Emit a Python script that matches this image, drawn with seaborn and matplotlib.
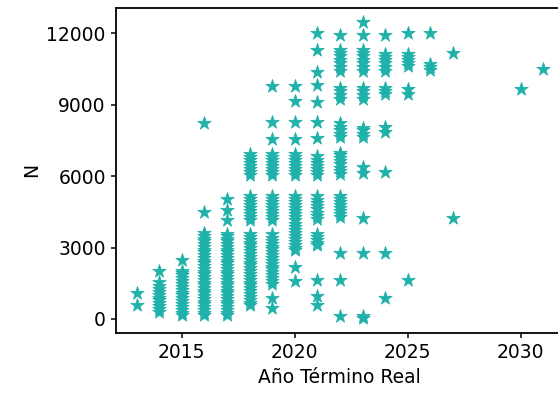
import matplotlib
matplotlib.use("Agg")
import matplotlib.pyplot as plt
import seaborn as sns
import pandas as pd

# Values, per completion year
y2013 = [600, 1090]
y2014 = [300, 420, 540, 660, 780, 900, 1020, 1140, 1260, 1380, 1550, 2000]
y2015 = [150, 270, 390, 510, 630, 750, 870, 990, 1110, 1230, 1350, 1470,
         1590, 1710, 1830, 1950, 2030, 2490]
y2016 = [150, 265, 380, 495, 610, 725, 840, 955, 1070, 1185, 1300, 1415,
         1530, 1645, 1760, 1875, 1990, 2105, 2220, 2335, 2450, 2565, 2680,
         2795, 2910, 3025, 3140, 3255, 3370, 3485, 3600, 4480, 8220]
y2017 = [150, 265, 380, 495, 610, 725, 840, 955, 1070, 1185, 1300, 1415,
         1530, 1645, 1760, 1875, 1990, 2105, 2220, 2335, 2450, 2565, 2680,
         2795, 2910, 3025, 3140, 3255, 3370, 3485, 3580, 4170, 4590, 5030]
y2018 = [570, 690, 810, 930, 1050, 1170, 1290, 1410, 1530, 1650, 1770, 1890,
         2010, 2130, 2250, 2370, 2490, 2610, 2730, 2850, 2970, 3090, 3210,
         3330, 3450, 3580, 4140, 4270, 4400, 4530, 4660, 4790, 4920, 5050,
         5170, 6030, 6160, 6290, 6420, 6550, 6680, 6810, 6930]
y2019 = [460, 880, 1480, 1600, 1720, 1840, 1960, 2080, 2200, 2320, 2440,
         2560, 2680, 2800, 2920, 3040, 3160, 3280, 3400, 3580, 4140, 4270,
         4400, 4530, 4660, 4790, 4920, 5050, 5170, 6030, 6160, 6290, 6420,
         6550, 6680, 6810, 6930, 7550, 8290, 9800]
y2020 = [1580, 2200, 2880, 3000, 3120, 3240, 3360, 3480, 3600, 3720, 3850,
         3980, 4140, 4270, 4400, 4530, 4660, 4790, 4920, 5050, 5170, 6030,
         6160, 6290, 6420, 6550, 6680, 6810, 6930, 7550, 8290, 9150, 9800]
y2021 = [600, 950, 1650, 3090, 3210, 3330, 3450, 3580, 4210, 4340, 4470,
         4600, 4730, 4860, 4990, 5170, 6030, 6160, 6290, 6420, 6550, 6680,
         6850, 7600, 8270, 9105, 9830, 10390, 11300, 12000]
y2022 = [110, 1650, 2770, 4280, 4410, 4540, 4670, 4800, 4930, 5050, 5170,
         6100, 6230, 6360, 6490, 6620, 6750, 6880, 6990, 7640, 7780, 7920,
         8060, 8250, 9245, 9400, 9560, 9720, 10430, 10580, 10730, 10880,
         11030, 11160, 11290, 11930]
y2023 = [30, 110, 2770, 4240, 6150, 6400, 7640, 7780, 7920, 8040, 9245,
         9400, 9560, 9720, 10430, 10580, 10730, 10880, 11030, 11160, 11290,
         11930, 12490]
y2024 = [880, 2770, 6190, 7850, 8050, 9450, 9590, 9720, 10430, 10580, 10730,
         10880, 11000, 11130, 11930]
y2025 = [1650, 9450, 9660, 10640, 10760, 10880, 11000, 11120, 12000]
y2026 = [10450, 10580, 10700, 12000]
y2027 = [4240, 11190]
y2030 = [9650]
y2031 = [10490]

years = [2013, 2014, 2015, 2016, 2017, 2018, 2019, 2020, 2021, 2022, 2023,
         2024, 2025, 2026, 2027, 2030, 2031]
values = [y2013, y2014, y2015, y2016, y2017, y2018, y2019, y2020, y2021, y2022,
          y2023, y2024, y2025, y2026, y2027, y2030, y2031]

xticks = [2015, 2020, 2025, 2030]
yticks = [0, 3000, 6000, 9000, 12000]

rows = []
for yr, vals in zip(years, values):
    for v in vals:
        rows.append({"Año Término Real": yr, "N": v})
df = pd.DataFrame(rows)

fig = plt.figure(figsize=(5.58, 3.98), dpi=100)
ax = fig.add_axes([116 / 558, 1 - 333 / 398, (563.6 - 116) / 558, (333 - 7.5) / 398])

color = "#20B2AA"
sns.scatterplot(data=df, x="Año Término Real", y="N", marker="*", s=100,
                color=color, edgecolor=color, linewidth=0.6, ax=ax)

ax.set_xlim(2012.09, 2031.9)
ax.set_ylim(-590, 13080)
ax.set_xticks(xticks)
ax.set_yticks(yticks)
ax.tick_params(labelsize=13.5, width=1.1, length=3.8)
for sp in ax.spines.values():
    sp.set_linewidth(1.3)
ax.set_xlabel("Año Término Real", fontsize=13.5)
ax.set_ylabel("N", fontsize=13.5)

fig.savefig("out.png", dpi=100)
